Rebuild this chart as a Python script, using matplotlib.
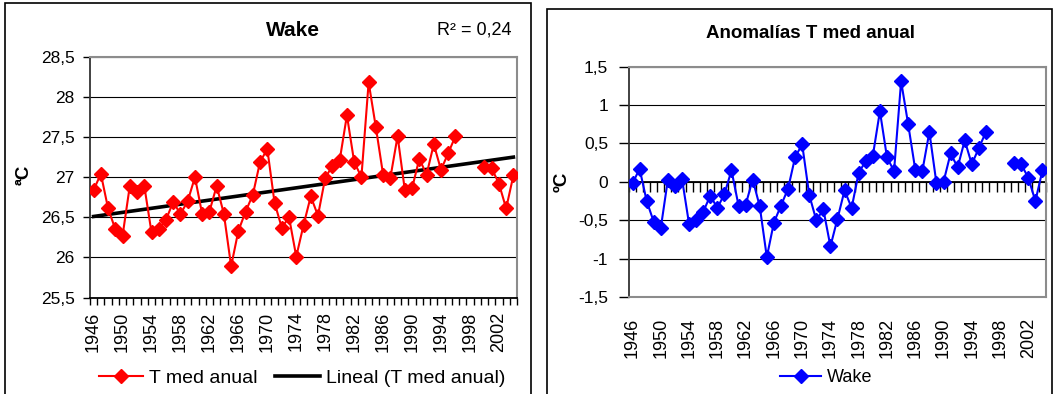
import numpy as np
import matplotlib.pyplot as plt
from matplotlib.patches import Rectangle
from matplotlib.lines import Line2D

plt.rcParams['font.family'] = ['Liberation Sans', 'DejaVu Sans']

years = list(range(1946, 2005))

# mean annual temperature at Wake (ºC), 1997-1999 missing
t_med = [26.84, 27.04, 26.61, 26.35, 26.27, 26.89, 26.82, 26.89, 26.31, 26.35,
         26.47, 26.69, 26.54, 26.70, 27.00, 26.54, 26.57, 26.89, 26.54, 25.89,
         26.33, 26.57, 26.78, 27.19, 27.35, 26.68, 26.37, 26.50, 26.01, 26.40,
         26.76, 26.52, 26.99, 27.14, 27.21, 27.77, 27.19, 27.00, 28.18, 27.62,
         27.03, 26.99, 27.51, 26.84, 26.86, 27.23, 27.03, 27.41, 27.09, 27.30,
         27.51, np.nan, np.nan, np.nan, 27.13, 27.11, 26.92, 26.61, 27.02]

# anomalies of the annual mean (ºC)
anomalias = [-0.02, 0.17, -0.25, -0.52, -0.60, 0.03, -0.05, 0.04, -0.55, -0.50,
             -0.39, -0.18, -0.34, -0.16, 0.15, -0.31, -0.30, 0.03, -0.32, -0.98,
             -0.53, -0.31, -0.09, 0.32, 0.49, -0.17, -0.50, -0.36, -0.84, -0.48,
             -0.11, -0.34, 0.12, 0.27, 0.34, 0.92, 0.32, 0.14, 1.31, 0.75,
             0.16, 0.14, 0.65, -0.02, 0.00, 0.37, 0.19, 0.54, 0.23, 0.44,
             0.65, np.nan, np.nan, np.nan, 0.25, 0.23, 0.05, -0.25, 0.15]

label_years = years[::4]
r2_text = 'R² = 0,24'


def style_axis(ax, ymin, ymax):
    ax.set_xlim(years[0] - 0.5, years[-1] + 0.5)
    ax.set_ylim(ymin, ymax)
    yt = np.arange(ymin, ymax + 0.01, 0.5)
    ax.set_yticks(yt)
    ax.set_yticklabels([('%g' % v).replace('.', ',') for v in yt])
    ax.yaxis.grid(True, color='black', linewidth=0.8)
    ax.set_axisbelow(True)
    for side in ['top', 'right']:
        ax.spines[side].set_color('#8c8c8c')
        ax.spines[side].set_linewidth(1.5)
    ax.spines['left'].set_color('#333333')
    ax.spines['left'].set_linewidth(1.3)
    ax.tick_params(axis='y', direction='out', length=5, width=1, labelsize=12.5, pad=6)
    # year labels on minor ticks (category centers)
    ax.set_xticks(label_years, minor=True)
    ax.set_xticklabels([str(y) for y in label_years], minor=True)
    ax.tick_params(axis='x', which='minor', labelrotation=90)


def main():
    fig = plt.figure(figsize=(10.55, 3.94), dpi=100)
    x = np.array(years)
    t = np.array(t_med)
    a = np.array(anomalias)

    # ---- left chart: Wake ----
    ax1 = fig.add_axes([90 / 1055, 1 - 297.5 / 394, 427 / 1055, 240.8 / 394])
    style_axis(ax1, 25.5, 28.5)
    ax1.spines['bottom'].set_color('black')
    ax1.spines['bottom'].set_linewidth(1.3)
    ax1.set_xticks(np.arange(years[0] - 0.5, years[-1] + 1))
    ax1.set_xticklabels([])
    ax1.tick_params(axis='x', which='major', direction='out', length=5, width=1)
    ax1.tick_params(axis='x', which='minor', length=0, labelsize=13, pad=10)

    ok = ~np.isnan(t)
    coef = np.polyfit(x[ok], t[ok], 1)
    ax1.plot(x, np.polyval(coef, x), color='black', linewidth=2.6, zorder=3)
    ax1.plot(x, t, color='red', linewidth=1.5, marker='D', markersize=7, zorder=4)

    fig.text(293 / 1055, 1 - 30 / 394, 'Wake', ha='center', va='center',
             fontsize=15, fontweight='bold')
    fig.text(474 / 1055, 1 - 30 / 394, r2_text, ha='center', va='center', fontsize=13)
    fig.text(24 / 1055, 1 - 175 / 394, 'ªC', ha='center', va='center',
             rotation=90, fontsize=13.5, fontweight='bold')

    h1 = [Line2D([], [], color='red', linewidth=1.5, marker='D', markersize=7),
          Line2D([], [], color='black', linewidth=2.6)]
    fig.legend(h1, ['T med anual', 'Lineal (T med anual)'], loc='center',
               bbox_to_anchor=(302 / 1055, 1 - 378 / 394), ncol=2, frameon=False,
               fontsize=14, handlelength=2.3, handletextpad=0.3, columnspacing=0.9,
               borderaxespad=0)

    # ---- right chart: anomalies ----
    ax2 = fig.add_axes([629 / 1055, 1 - 297 / 394, 417 / 1055, 230.3 / 394])
    style_axis(ax2, -1.5, 1.5)
    ax2.spines['bottom'].set_color('#8c8c8c')
    ax2.spines['bottom'].set_linewidth(1.5)
    ax2.set_xticks([])
    ax2.tick_params(axis='y', length=7, pad=8)
    ax2.tick_params(axis='x', which='minor', length=0, labelsize=13, pad=15)

    # category axis crossing at zero, ticks hanging down
    zero_axis = ax2.secondary_xaxis(0.5)
    zero_axis.set_xticks(np.arange(years[0] - 0.5, years[-1] + 1))
    zero_axis.set_xticklabels([])
    zero_axis.tick_params(axis='x', direction='in', length=7, width=1)
    for sp in zero_axis.spines.values():
        sp.set_color('black')
        sp.set_linewidth(1.3)

    ax2.plot(x, a, color='blue', linewidth=1.5, marker='D', markersize=7, zorder=4)

    fig.text(810 / 1055, 1 - 33 / 394, 'Anomalías T med anual', ha='center', va='center',
             fontsize=13.5, fontweight='bold')
    fig.text(562 / 1055, 1 - 182 / 394, 'ºC', ha='center', va='center',
             rotation=90, fontsize=13.5, fontweight='bold')

    h2 = [Line2D([], [], color='blue', linewidth=1.5, marker='D', markersize=7)]
    fig.legend(h2, ['Wake'], loc='center', bbox_to_anchor=(826 / 1055, 1 - 378 / 394),
               frameon=False, fontsize=13, handlelength=2.3, handletextpad=0.3,
               borderaxespad=0)

    # chart area frames
    fig.patches.append(Rectangle((5 / 1055, -0.1), 526 / 1055, 1.1 - 3 / 394,
                                 transform=fig.transFigure, fill=False,
                                 edgecolor='black', linewidth=1.2))
    fig.patches.append(Rectangle((547 / 1055, -0.1), 505 / 1055, 1.1 - 9 / 394,
                                 transform=fig.transFigure, fill=False,
                                 edgecolor='black', linewidth=1.2))

    plt.savefig('out.png', dpi=100)


if __name__ == '__main__':
    main()
